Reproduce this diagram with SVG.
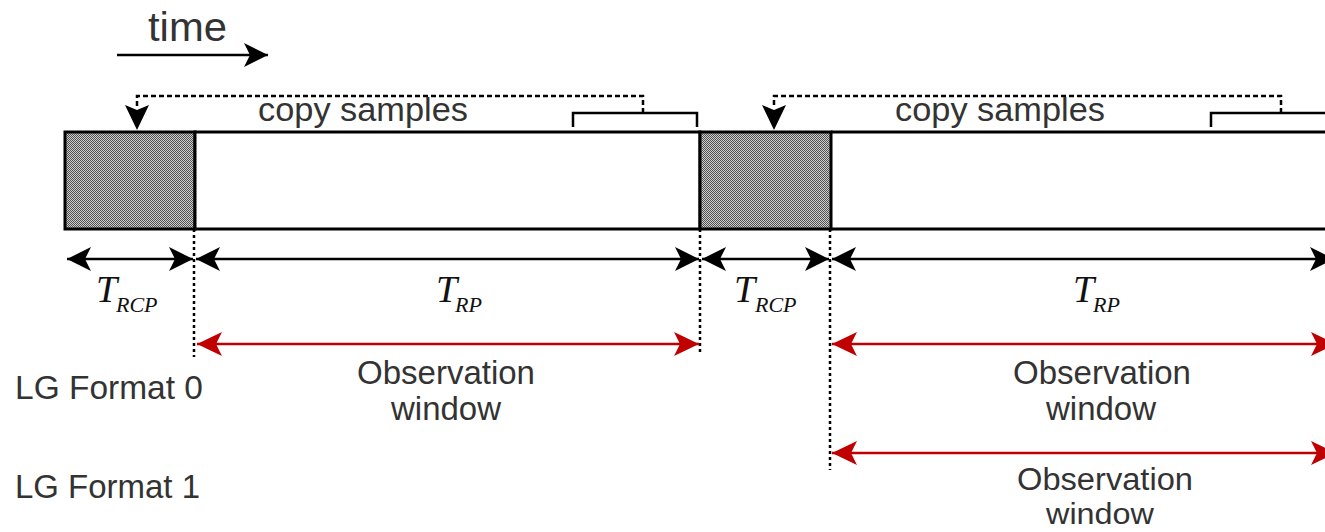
<svg xmlns="http://www.w3.org/2000/svg" width="1325" height="532" viewBox="0 0 1325 532">
<style>
.lbl{font-family:"Liberation Sans",Arial,sans-serif;fill:#333;}
.mth{font-family:"Liberation Serif","Times New Roman",serif;font-style:italic;fill:#111;}
.frame{stroke:#000;stroke-width:3;}
.shade{fill:url(#grain);}
.blank{fill:#fff;}
.line{fill:none;}
.dim{stroke:#000;stroke-width:2.5;fill:none;}
.obs{stroke:#c00000;stroke-width:2.5;fill:none;}
.dot{stroke:#000;stroke-width:2.5;stroke-dasharray:3 3;fill:none;}
.dash{stroke:#000;stroke-width:2.5;stroke-dasharray:5 3;fill:none;}
.brk{stroke:#000;stroke-width:2.5;fill:none;}
</style>
<defs>
<pattern id="grain" width="2" height="2" patternUnits="userSpaceOnUse">
<rect width="2" height="2" fill="#cfcfcf"/>
<rect width="1" height="1" fill="#505050"/>
<rect x="1" y="1" width="1" height="1" fill="#505050"/>
</pattern>
<marker id="ab" viewBox="-25 -13 26 26" refX="0" refY="0" markerWidth="26" markerHeight="26" markerUnits="userSpaceOnUse" orient="auto-start-reverse">
<path d="M0,0 L-24,-12 L-18,0 L-24,12 Z" fill="#000"/>
</marker>
<marker id="ar" viewBox="-26 -13 27 26" refX="0" refY="0" markerWidth="27" markerHeight="26" markerUnits="userSpaceOnUse" orient="auto-start-reverse">
<path d="M0,0 L-25,-12 L-19,0 L-25,12 Z" fill="#c00000"/>
</marker>
</defs>

<g id="time-arrow">
<text class="lbl" x="148" y="41" font-size="41" textLength="79" lengthAdjust="spacingAndGlyphs">time</text>
<line class="dim" x1="117" y1="55" x2="268" y2="55" marker-end="url(#ab)"/>
</g>

<g id="frame">
<rect x="65" y="132" width="130" height="97" class="frame shade"/>
<rect x="195" y="132" width="505" height="97" class="frame blank"/>
<rect x="700" y="132" width="131" height="97" class="frame shade"/>
<path class="frame line" d="M831,132 L1330,132 M831,229 L1330,229"/>
</g>

<g id="copy-1">
<path class="brk" d="M573,127 L573,113 L697,113 L697,127"/>
<path class="dash" d="M643,113 L643,96 L137,96 L137,108"/>
<path d="M125,105 L137,110 L149,105 L137,130 Z" fill="#000"/>
<text class="lbl" x="258" y="121" font-size="34" textLength="210" lengthAdjust="spacingAndGlyphs">copy samples</text>
</g>

<g id="copy-2">
<path class="brk" d="M1211,127 L1211,113 L1330,113"/>
<path class="dash" d="M1281,113 L1281,96 L774,96 L774,108"/>
<path d="M762,105 L774,110 L786,105 L774,130 Z" fill="#000"/>
<text class="lbl" x="895" y="121" font-size="34" textLength="210" lengthAdjust="spacingAndGlyphs">copy samples</text>
</g>

<g id="connectors">
<path class="dot" d="M194,229 L194,357"/>
<path class="dot" d="M700,229 L700,354"/>
<path class="dot" d="M830,229 L830,470"/>
<line class="dim" x1="67" y1="259" x2="193" y2="259" marker-start="url(#ab)" marker-end="url(#ab)"/>
<line class="dim" x1="196" y1="259" x2="699" y2="259" marker-start="url(#ab)" marker-end="url(#ab)"/>
<line class="dim" x1="702" y1="259" x2="829" y2="259" marker-start="url(#ab)" marker-end="url(#ab)"/>
<line class="dim" x1="832" y1="259" x2="1334" y2="259" marker-start="url(#ab)" marker-end="url(#ab)"/>
<line class="obs" x1="197" y1="344" x2="699" y2="344" marker-start="url(#ar)" marker-end="url(#ar)"/>
<line class="obs" x1="832" y1="344" x2="1336" y2="344" marker-start="url(#ar)" marker-end="url(#ar)"/>
<line class="obs" x1="832" y1="453" x2="1336" y2="453" marker-start="url(#ar)" marker-end="url(#ar)"/>
</g>

<g id="t-rcp-1">
<text class="mth" x="96" y="302" font-size="38">T</text>
<text class="mth" x="116" y="312" font-size="22">RCP</text>
</g>
<g id="t-rp-1">
<text class="mth" x="436" y="302" font-size="38">T</text>
<text class="mth" x="455" y="312" font-size="22">RP</text>
</g>
<g id="t-rcp-2">
<text class="mth" x="734" y="302" font-size="38">T</text>
<text class="mth" x="755" y="312" font-size="22">RCP</text>
</g>
<g id="t-rp-2">
<text class="mth" x="1073" y="302" font-size="38">T</text>
<text class="mth" x="1093" y="312" font-size="22">RP</text>
</g>

<g id="lg0">
<text class="lbl" x="15" y="399" font-size="33" textLength="188" lengthAdjust="spacingAndGlyphs">LG Format 0</text>
</g>
<g id="lg1">
<text class="lbl" x="15" y="498" font-size="33" textLength="185" lengthAdjust="spacingAndGlyphs">LG Format 1</text>
</g>

<g id="obs-1">
<text class="lbl" x="446" y="384" font-size="33" text-anchor="middle">Observation</text>
<text class="lbl" x="446" y="420" font-size="33" text-anchor="middle">window</text>
</g>
<g id="obs-2">
<text class="lbl" x="1102" y="384" font-size="33" text-anchor="middle">Observation</text>
<text class="lbl" x="1101" y="420" font-size="33" text-anchor="middle">window</text>
</g>
<g id="obs-3">
<text class="lbl" x="1105" y="490" font-size="31" text-anchor="middle" textLength="176" lengthAdjust="spacingAndGlyphs">Observation</text>
<text class="lbl" x="1100" y="524" font-size="30" text-anchor="middle" textLength="108" lengthAdjust="spacingAndGlyphs">window</text>
</g>
</svg>
